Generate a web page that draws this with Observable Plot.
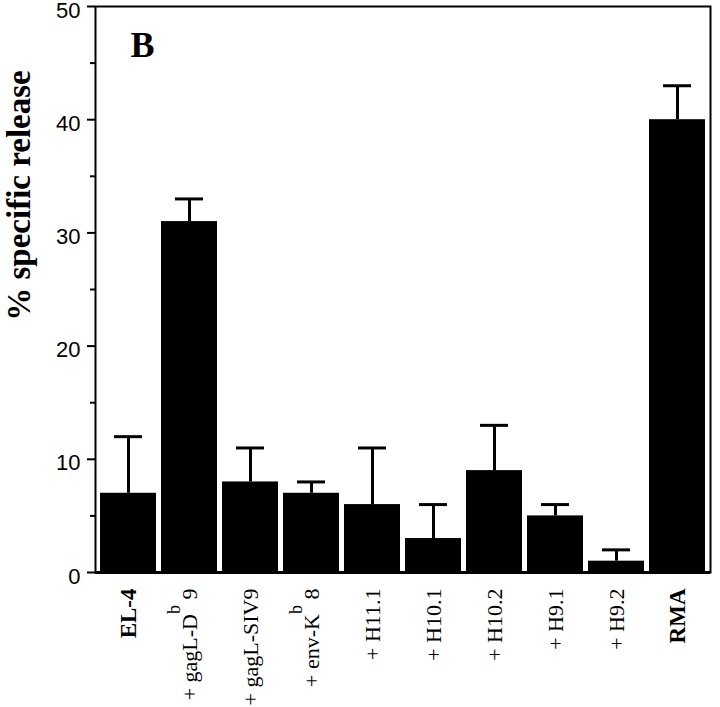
<!DOCTYPE html>
<html>
<head>
<meta charset="utf-8">
<script src="https://cdn.jsdelivr.net/npm/d3@7"></script>
<script src="https://cdn.jsdelivr.net/npm/@observablehq/plot@0.6"></script>
<style>
  html, body { margin: 0; padding: 0; background: #fff; }
  #chart svg { display: block; }
</style>
</head>
<body>
<div id="chart"></div>
<script>
// Categories (a "^" marks a superscript part of the label)
const categories = ["EL-4", "+ gagL-D^b^ 9", "+ gagL-SIV9", "+ env-K^b^ 8", "+ H11.1", "+ H10.1", "+ H10.2", "+ H9.1", "+ H9.2", "RMA"];
// % specific release (bar heights)
const values = [7, 31, 8, 7, 6, 3, 9, 5, 1, 40];
// upper end of error bars
const errorTops = [12, 33, 11, 8, 11, 6, 13, 6, 2, 43];
const boldLabels = ["EL-4", "RMA"];
const yTicks = [0, 10, 20, 30, 40, 50];
const yMinorTicks = [5, 15, 25, 35, 45];
const yLabel = "% specific release";
const panelLetter = "B";

const data = categories.map((c, i) => ({label: c, value: values[i], err: errorTops[i]}));

const serif = "'Liberation Serif', 'Times New Roman', serif";
const sans = "'Liberation Sans', Arial, Helvetica, sans-serif";

const chart = Plot.plot({
  width: 720,
  height: 707,
  marginLeft: 95,
  marginRight: 10,
  marginTop: 6,
  marginBottom: 135,
  style: {background: "#fff", color: "#000"},
  x: {domain: categories, paddingInner: 0.08, paddingOuter: 0.04, label: null},
  y: {domain: [0, 50], label: null},
  marks: [
    Plot.frame({stroke: "#000", strokeWidth: 2}),
    // major tick marks
    Plot.axisY({ticks: yTicks, tickSize: 8, tickFormat: () => "", label: null, strokeWidth: 2}),
    // major tick labels (nudged slightly down as in the original)
    Plot.axisY({ticks: yTicks, tickSize: 0, tickPadding: 15, fontSize: 22, fontFamily: sans, label: null, dy: 4}),
    // minor tick marks
    Plot.axisY({ticks: yMinorTicks, tickSize: 5, tickFormat: () => "", label: null, strokeWidth: 2}),
    Plot.axisX({tickSize: 0, tickRotate: -90, tickPadding: 16, fontSize: 22, fontFamily: serif, label: null,
      tickFormat: d => d}),
    Plot.ruleX(data, {x: "label", y1: "value", y2: "err", stroke: "#000", strokeWidth: 3}),
    Plot.tickY(data, {x: "label", y: "err", stroke: "#000", strokeWidth: 3, insetLeft: 14, insetRight: 14}),
    Plot.barY(data, {x: "label", y: "value", fill: "#000"}),
    Plot.ruleY([0], {stroke: "#000", strokeWidth: 3}),
    Plot.text([yLabel], {text: d => d, frameAnchor: "left", dx: -76, dy: -94, rotate: -90,
      fontFamily: serif, fontWeight: "bold", fontSize: 33, fill: "#000", lineAnchor: "middle", textAnchor: "middle"}),
    Plot.text([panelLetter], {text: d => d, frameAnchor: "top-left", dx: 35, dy: 39,
      fontFamily: serif, fontWeight: "bold", fontSize: 36, fill: "#000", textAnchor: "start", lineAnchor: "middle"})
  ]
});

// Style x tick labels: bold for controls, superscripts where marked
d3.select(chart).selectAll('g[aria-label="x-axis tick label"] text').each(function() {
  const t = d3.select(this);
  const s = this.textContent;
  if (boldLabels.includes(s)) {
    t.attr("font-weight", "bold").attr("font-size", 23);
  } else if (s.includes("^")) {
    const parts = s.split("^");
    t.text(null);
    t.append("tspan").text(parts[0]);
    t.append("tspan").attr("dy", -17).attr("font-size", 18).text(parts[1]);
    t.append("tspan").attr("dy", 17).text(parts[2]);
  }
});

document.getElementById("chart").appendChild(chart);
</script>
</body>
</html>
